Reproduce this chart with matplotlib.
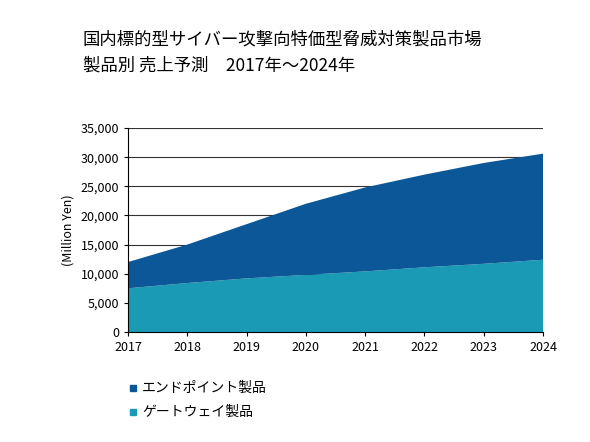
import matplotlib
matplotlib.use("Agg")
import matplotlib.pyplot as plt
from matplotlib.ticker import FuncFormatter

plt.rcParams['font.family'] = ['Noto Sans CJK JP', 'DejaVu Sans']

years = [2017, 2018, 2019, 2020, 2021, 2022, 2023, 2024]
gateway = [7500, 8400, 9200, 9800, 10400, 11100, 11700, 12400]
endpoint = [4500, 6600, 9300, 12200, 14400, 15900, 17300, 18200]
labels = ["エンドポイント製品", "ゲートウェイ製品"]
title = "国内標的型サイバー攻撃向特価型脅威対策製品市場\n製品別 売上予測　2017年～2024年"

fig = plt.figure(figsize=(5.9, 4.42), dpi=100)
ax = fig.add_axes([128/590, 1-332/442, (543-128)/590, (332-128)/442])
c_end, c_gw = "#0b5797", "#1a9ab4"
ax.stackplot(years, gateway, endpoint, colors=[c_gw, c_end], zorder=2)
ax.set_xlim(2017, 2024)
ax.set_ylim(0, 35000)
ax.set_yticks(range(0, 35001, 5000))
ax.set_xticks(years)
ax.yaxis.set_major_formatter(FuncFormatter(lambda v, p: f"{int(v):,}"))
ax.grid(axis='y', color='#333333', linewidth=0.8, zorder=1)
for s in ['top', 'right']:
    ax.spines[s].set_visible(False)
ax.tick_params(labelsize=9, length=3)
ax.set_ylabel("(Million Yen)", fontsize=9, labelpad=4)
fig.text(83/590, 1-30/442, title, fontsize=12.5, va='top', ha='left', linespacing=1.6)

for i, (lab, col) in enumerate(zip(labels, [c_end, c_gw])):
    y = 1 - (388 + 24*i)/442
    fig.patches.append(plt.Rectangle((130/590, y-3/442), 6/590, 6/442, color=col, transform=fig.transFigure))
    fig.text(142/590, y, lab, fontsize=10, va='center')

fig.savefig("out.png", dpi=100)
